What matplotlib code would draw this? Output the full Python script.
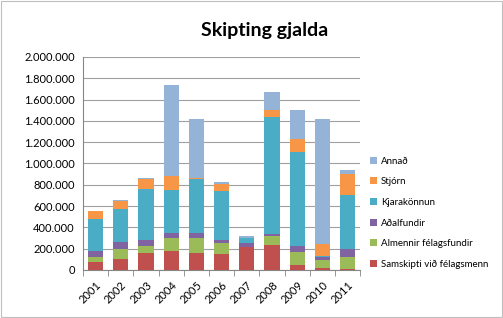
import numpy as np
import matplotlib.pyplot as plt
from matplotlib.ticker import FuncFormatter

plt.rcParams['font.family'] = ['Lato', 'DejaVu Sans']

years = ['2001', '2002', '2003', '2004', '2005', '2006', '2007', '2008', '2009', '2010', '2011']

# þúsundir kr.
samskipti = [72, 100, 163, 179, 163, 147, 213, 238, 47, 16, 6]
almennir = [47, 94, 63, 125, 141, 110, 6, 85, 125, 78, 119]
adalfundir = [56, 72, 56, 47, 47, 25, 32, 12, 57, 31, 69]
kjarakonnun = [305, 311, 480, 401, 502, 464, 47, 1101, 878, 7, 514]
stjorn = [72, 75, 94, 126, 12, 63, 0, 69, 125, 116, 195]
annad = [6, 6, 3, 855, 552, 15, 25, 166, 273, 1172, 37]

series = [
    ('Samskipti við félagsmenn', samskipti, '#C0504D'),
    ('Almennir félagsfundir', almennir, '#9BBB59'),
    ('Aðalfundir', adalfundir, '#8064A2'),
    ('Kjarakönnun', kjarakonnun, '#4BACC6'),
    ('Stjórn', stjorn, '#F79646'),
    ('Annað', annad, '#95B3D7'),
]

fig = plt.figure(figsize=(5.03, 3.18), dpi=100)
ax = fig.add_axes([0.165, 0.151, 0.551, 0.670])

x = np.arange(len(years))
bottom = np.zeros(len(years))
for name, vals, col in series:
    v = np.array(vals) * 1000
    ax.bar(x, v, 0.6, bottom=bottom, color=col, label=name, zorder=3)
    bottom += v

ax.set_ylim(0, 2000000)
ax.set_yticks(np.arange(0, 2000001, 200000))
ax.yaxis.set_major_formatter(FuncFormatter(lambda v, p: f'{int(v):,}'.replace(',', '.')))
ax.set_xlim(-0.5, len(years) - 0.5)
ax.set_xticks(x)
ax.set_xticklabels(years, rotation=45, ha='right', rotation_mode='anchor', fontsize=8)
ax.set_xticks(np.arange(-0.5, len(years), 1), minor=True)
ax.tick_params(axis='x', which='major', length=0, pad=7)
ax.tick_params(axis='x', which='minor', length=4, color='#868686')
ax.tick_params(axis='y', length=0, labelsize=8, pad=6)
ax.grid(axis='y', color='#A0A0A0', linewidth=0.8, zorder=0)
for s in ['top', 'right']:
    ax.spines[s].set_visible(False)
ax.spines['left'].set_color('#868686')
ax.spines['bottom'].set_color('#868686')

fig.text(0.527, 0.905, 'Skipting gjalda', ha='center', va='center', fontsize=14, fontweight='bold')

h, l = ax.get_legend_handles_labels()
fig.legend(h[::-1], l[::-1], loc='upper left', bbox_to_anchor=(0.728, 0.52),
           frameon=False, fontsize=7, handlelength=0.7, handleheight=0.7,
           labelspacing=1.2, handletextpad=0.4, borderaxespad=0)

fig.patches.append(plt.Rectangle((0.002, 0.003), 0.996, 0.994, transform=fig.transFigure,
                                 fill=False, edgecolor='#BFBFBF', linewidth=0.8))

fig.savefig('out.png', dpi=100)
